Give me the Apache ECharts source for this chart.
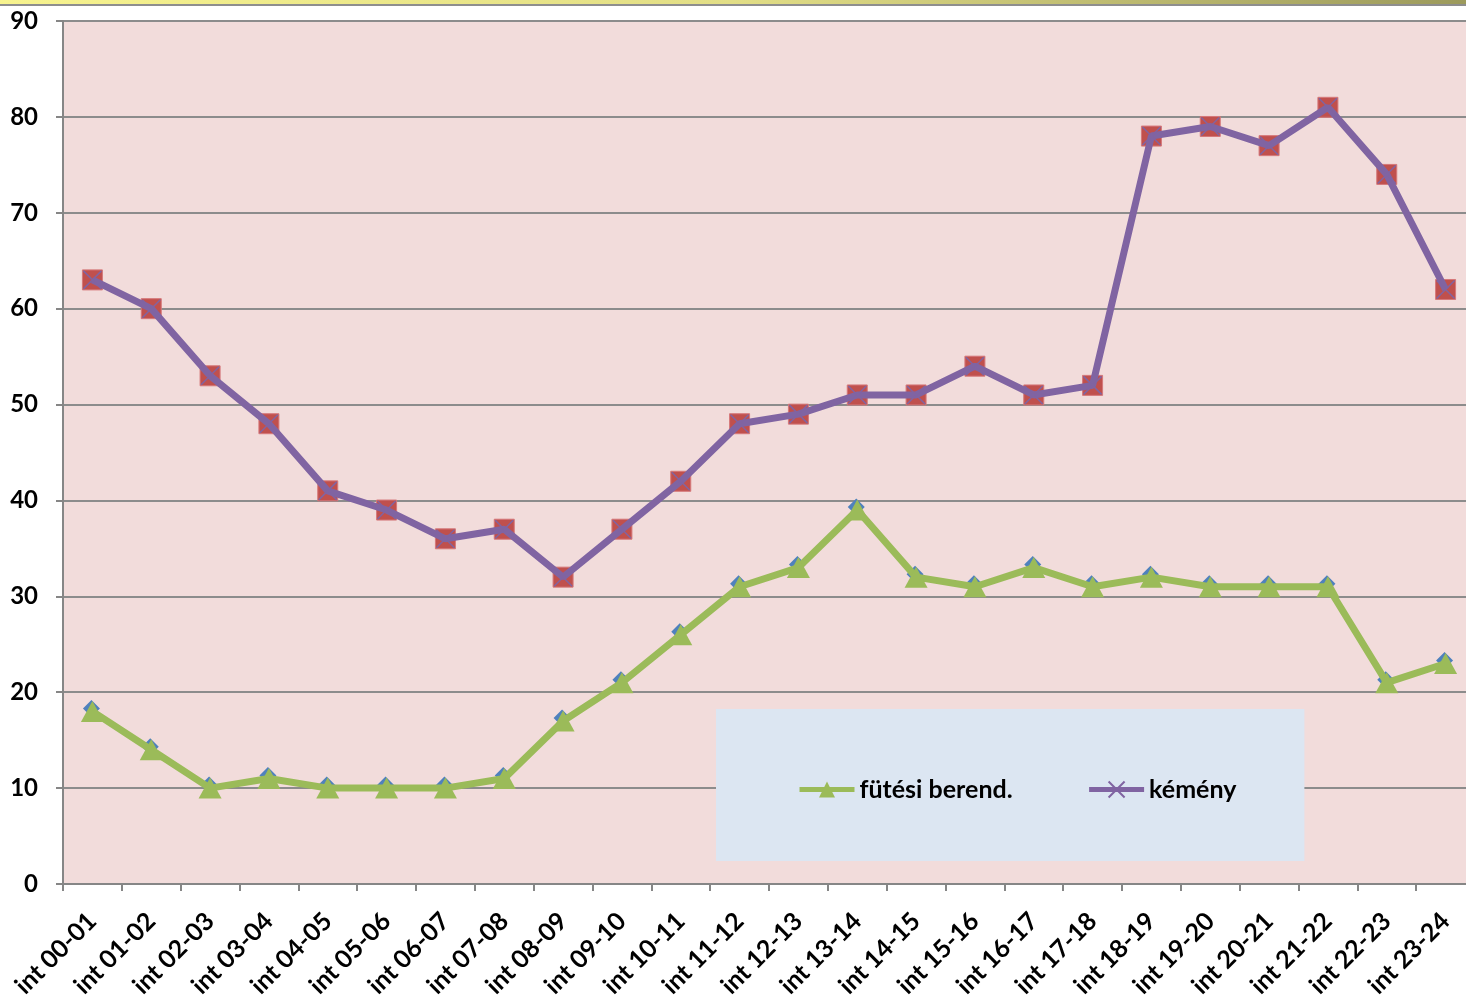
<!DOCTYPE html>
<html>
<head>
<meta charset="utf-8">
<script src="https://cdn.jsdelivr.net/npm/echarts@6/dist/echarts.min.js"></script>
<style>
  html, body { margin: 0; padding: 0; background: #fff; overflow: hidden; }
  #chart { width: 1476px; height: 1001px; }
</style>
</head>
<body>
<div id="chart"></div>
<script>
// kategóriák (órás intervallumok)
const categories = [
    'int 00-01', 'int 01-02', 'int 02-03', 'int 03-04', 'int 04-05', 'int 05-06',
    'int 06-07', 'int 07-08', 'int 08-09', 'int 09-10', 'int 10-11', 'int 11-12',
    'int 12-13', 'int 13-14', 'int 14-15', 'int 15-16', 'int 16-17', 'int 17-18',
    'int 18-19', 'int 19-20', 'int 20-21', 'int 21-22', 'int 22-23', 'int 23-24'
]
const futesiValues = [18, 14, 10, 11, 10, 10, 10, 11, 17, 21, 26, 31, 33, 39, 32, 31, 33, 31, 32, 31, 31, 31, 21, 23]
const kemenyValues = [63, 60, 53, 48, 41, 39, 36, 37, 32, 37, 42, 48, 49, 51, 51, 54, 51, 52, 78, 79, 77, 81, 74, 62]
const yTicks = [0, 10, 20, 30, 40, 50, 60, 70, 80, 90]

const FONT = 'Lato'
const crossIcon = 'path://M0,0L10,10M10,0L0,10'

// a diagram jobb széle kilóg a képből (1466 px), ezért szélesebb a konténer
const myChart = echarts.init(document.getElementById('chart'))
myChart.setOption({
    animation: false,
    textStyle: { fontFamily: FONT },
    graphic: [
        {
            type: 'rect',
            shape: { x: 0, y: 0, width: 1466, height: 4 },
            style: {
                fill: {
                    type: 'linear', x: 0, y: 0, x2: 1, y2: 0,
                    colorStops: [
                        { offset: 0, color: '#F7F38E' },
                        { offset: 0.5, color: '#E2DE86' },
                        { offset: 1, color: '#9C9A5C' }
                    ]
                }
            },
            silent: true
        },
        {
            type: 'rect',
            shape: { x: 0, y: 4, width: 1466, height: 2 },
            style: { fill: '#8E8E8E' },
            silent: true
        }
    ],
    grid: {
        left: 63,
        right: 1,
        top: 21,
        bottom: 117,
        show: true,
        backgroundColor: '#F2DCDB',
        borderWidth: 0
    },
    legend: {
        left: 716,
        top: 709,
        padding: [68, 68, 59, 81],
        backgroundColor: '#DCE6F2',
        itemWidth: 55,
        itemHeight: 20,
        itemGap: 74,
        data: [
            { name: 'fütési berend.', lineStyle: { width: 5 } },
            { name: 'kémény', lineStyle: { width: 5 } }
        ],
        textStyle: { fontSize: 25, fontWeight: 'bold', color: '#000', fontFamily: FONT }
    },
    xAxis: {
        type: 'category',
        data: categories,
        boundaryGap: true,
        axisLine: { lineStyle: { color: '#868686', width: 2 } },
        axisTick: { show: true, length: 7, lineStyle: { color: '#868686', width: 2 } },
        axisLabel: {
            interval: 0,
            rotate: 45,
            margin: 33,
            fontSize: 25,
            fontWeight: 'bold',
            color: '#000'
        },
        splitLine: { show: false }
    },
    yAxis: {
        type: 'value',
        min: 0,
        max: 90,
        interval: 10,
        axisLine: { show: true, lineStyle: { color: '#868686', width: 2 } },
        axisTick: { show: true, length: 7, lineStyle: { color: '#868686', width: 2 } },
        axisLabel: {
            margin: 25,
            fontSize: 24,
            fontWeight: 'bold',
            color: '#000',
            formatter: v => yTicks.includes(v) ? String(v) : ''
        },
        splitLine: { show: true, lineStyle: { color: '#8C8C8C', width: 2 } }
    },
    series: [
        // kék rombuszok a zöld háromszögek mögött
        {
            name: 'futesi-bg',
            type: 'line',
            data: futesiValues,
            symbol: 'diamond',
            symbolSize: 17,
            symbolOffset: [-1, -3],
            lineStyle: { width: 0, opacity: 0 },
            itemStyle: { color: '#4F81BD' },
            z: 2,
            silent: true
        },
        {
            name: 'fütési berend.',
            type: 'line',
            data: futesiValues,
            symbol: 'triangle',
            symbolSize: [23, 21],
            showAllSymbol: true,
            lineStyle: { color: '#9BBB59', width: 7 },
            itemStyle: { color: '#9BBB59' },
            z: 3
        },
        // piros négyzetek a lila X alatt
        {
            name: 'kemeny-bg',
            type: 'line',
            data: kemenyValues,
            symbol: 'rect',
            symbolSize: 20,
            lineStyle: { width: 0, opacity: 0 },
            itemStyle: { color: '#C0504D', borderColor: '#D5787A', borderWidth: 1 },
            z: 2,
            silent: true
        },
        {
            name: 'kémény',
            type: 'line',
            data: kemenyValues,
            symbol: crossIcon,
            symbolSize: 18,
            showAllSymbol: true,
            lineStyle: { color: '#8064A2', width: 7 },
            itemStyle: { color: 'rgba(0,0,0,0)', borderColor: '#8064A2', borderWidth: 1.5 },
            z: 3
        }
    ]
})
window.addEventListener('resize', myChart.resize)
</script>
</body>
</html>
